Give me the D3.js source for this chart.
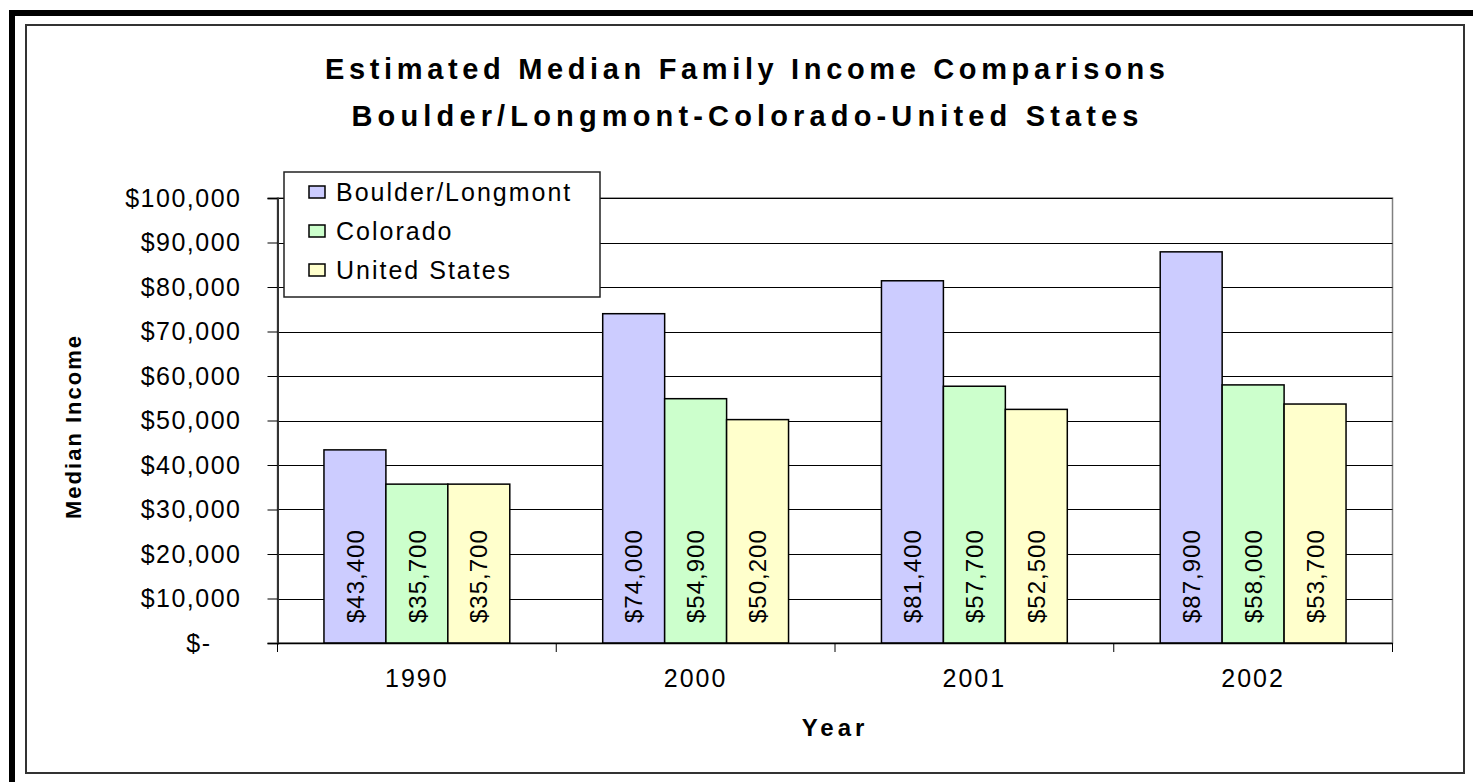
<!DOCTYPE html>
<html>
<head>
<meta charset="utf-8">
<script src="https://cdn.jsdelivr.net/npm/d3@7"></script>
<style>
  html, body { margin: 0; padding: 0; background: #fff; }
  svg { display: block; }
  text { font-family: Arial, "Liberation Sans", sans-serif; fill: #000; }
</style>
</head>
<body>
<svg id="chart" width="1473" height="782"></svg>
<script>
// ---- data ----
const years = ["1990", "2000", "2001", "2002"];
const seriesNames = ["Boulder/Longmont", "Colorado", "United States"];
const boulderLongmont = [43400, 74000, 81400, 87900];
const colorado = [35700, 54900, 57700, 58000];
const unitedStates = [35700, 50200, 52500, 53700];
const yTicks = [0, 10000, 20000, 30000, 40000, 50000, 60000, 70000, 80000, 90000, 100000];
const titleLines = ["Estimated Median Family Income Comparisons", "Boulder/Longmont-Colorado-United States"];
const xTitle = "Year";
const yTitle = "Median Income";
const colors = ["#CCCCFF", "#CCFFCC", "#FFFFCC"];

const seriesValues = [boulderLongmont, colorado, unitedStates];

const svg = d3.select("#chart");

// outer frame
svg.append("rect").attr("x", 0).attr("y", 0).attr("width", 1473).attr("height", 782).attr("fill", "#fff");
svg.append("rect").attr("x", 9).attr("y", 10).attr("width", 1464).attr("height", 6).attr("fill", "#000");
svg.append("rect").attr("x", 9).attr("y", 10).attr("width", 6).attr("height", 772).attr("fill", "#000");
// chart area border
svg.append("rect").attr("x", 26).attr("y", 25).attr("width", 1438).attr("height", 748)
  .attr("fill", "none").attr("stroke", "#333").attr("stroke-width", 2);

const plot = { left: 277.5, right: 1392.5, top: 198, bottom: 643 };

const x = d3.scaleBand().domain(years).range([plot.left, plot.right]).paddingInner(0).paddingOuter(0);
const y = d3.scaleLinear().domain([0, 100000]).range([plot.bottom, plot.top]);
const barW = x.bandwidth() / 4.5;
const xs = d3.scaleBand().domain(seriesNames).range([0, barW * 3]);

// plot border (right/top)
svg.append("rect").attr("x", plot.left).attr("y", plot.top).attr("width", plot.right - plot.left)
  .attr("height", plot.bottom - plot.top).attr("fill", "none").attr("stroke", "#808080").attr("stroke-width", 1.5);

// gridlines
svg.append("g").selectAll("line").data(yTicks.slice(1)).join("line")
  .attr("x1", plot.left).attr("x2", plot.right)
  .attr("y1", d => Math.round(y(d)) + 0.5).attr("y2", d => Math.round(y(d)) + 0.5)
  .attr("stroke", "#000").attr("stroke-width", 1);

// y axis
const yAxis = d3.axisLeft(y).tickValues(yTicks).tickSize(10).tickPadding(26)
  .tickFormat(d => d === 0 ? "$-" : d3.format("$,")(d));
const gy = svg.append("g").attr("transform", `translate(${plot.left},0)`).call(yAxis);
gy.select(".domain").attr("stroke", "#333").attr("stroke-width", 2);
gy.selectAll(".tick line").attr("stroke", "#000");
gy.selectAll(".tick text").attr("font-size", 25).attr("letter-spacing", 1.5)
  .attr("font-family", "Arial, 'Liberation Sans', sans-serif").attr("fill", "#000")
  .attr("dx", d => d === 0 ? -30 : 0);

// bars
const groups = svg.append("g").selectAll("g").data(years).join("g")
  .attr("transform", d => `translate(${x(d) + (x.bandwidth() - barW * 3) / 2},0)`);

groups.selectAll("rect").data((d, i) => seriesNames.map((s, j) => ({ s, j, v: seriesValues[j][i] }))).join("rect")
  .attr("x", d => xs(d.s))
  .attr("y", d => y(d.v))
  .attr("width", xs.bandwidth())
  .attr("height", d => y(0) - y(d.v))
  .attr("fill", d => colors[d.j])
  .attr("stroke", "#000").attr("stroke-width", 1.5);

groups.selectAll("text").data((d, i) => seriesNames.map((s, j) => ({ s, j, v: seriesValues[j][i] }))).join("text")
  .attr("transform", d => `translate(${xs(d.s) + xs.bandwidth() / 2},${y(0) - 20}) rotate(-90)`)
  .attr("dy", "0.36em")
  .attr("font-size", 24).attr("letter-spacing", 1)
  .text(d => d3.format("$,")(d.v));

// x axis
const xAxis = d3.axisBottom(x).tickSize(0).tickPadding(26);
const gx = svg.append("g").attr("transform", `translate(0,${plot.bottom})`).call(xAxis);
gx.select(".domain").attr("stroke", "#000").attr("stroke-width", 1.5);
gx.selectAll(".tick text").attr("font-size", 25).attr("letter-spacing", 2)
  .attr("font-family", "Arial, 'Liberation Sans', sans-serif").attr("fill", "#000");
// category separator ticks
const bounds = years.map(d => x(d)).concat([plot.right]);
svg.append("g").selectAll("line").data(bounds).join("line")
  .attr("x1", d => d).attr("x2", d => d).attr("y1", plot.bottom).attr("y2", plot.bottom + 9)
  .attr("stroke", "#000").attr("stroke-width", 1);

// titles
const cx = 745;
const titleSizes = [840, 787];
svg.append("g").selectAll("text").data(titleLines).join("text")
  .attr("x", cx).attr("y", (d, i) => 79 + i * 47)
  .attr("text-anchor", "middle").attr("font-size", 29).attr("font-weight", "bold")
  .attr("textLength", (d, i) => titleSizes[i]).attr("lengthAdjust", "spacing")
  .text(d => d);

svg.append("text").attr("x", (plot.left + plot.right) / 2).attr("y", 736)
  .attr("text-anchor", "middle").attr("font-size", 24).attr("font-weight", "bold").attr("letter-spacing", 4)
  .text(xTitle);

svg.append("text").attr("transform", `translate(81,${(plot.top + plot.bottom) / 2 + 6}) rotate(-90)`)
  .attr("text-anchor", "middle").attr("font-size", 22).attr("font-weight", "bold").attr("letter-spacing", 2)
  .text(yTitle);

// legend
const lg = svg.append("g");
lg.append("rect").attr("x", 284).attr("y", 172).attr("width", 316).attr("height", 125)
  .attr("fill", "#fff").attr("stroke", "#222").attr("stroke-width", 1.5);
const items = lg.selectAll("g").data(seriesNames).join("g")
  .attr("transform", (d, i) => `translate(0,${192 + i * 39})`);
items.append("rect").attr("x", 309).attr("y", -6).attr("width", 16).attr("height", 12)
  .attr("fill", (d, i) => colors[i]).attr("stroke", "#000").attr("stroke-width", 1.5);
items.append("text").attr("x", 336).attr("y", 0).attr("dy", "0.36em")
  .attr("font-size", 25).attr("letter-spacing", 2).text(d => d);
</script>
</body>
</html>
